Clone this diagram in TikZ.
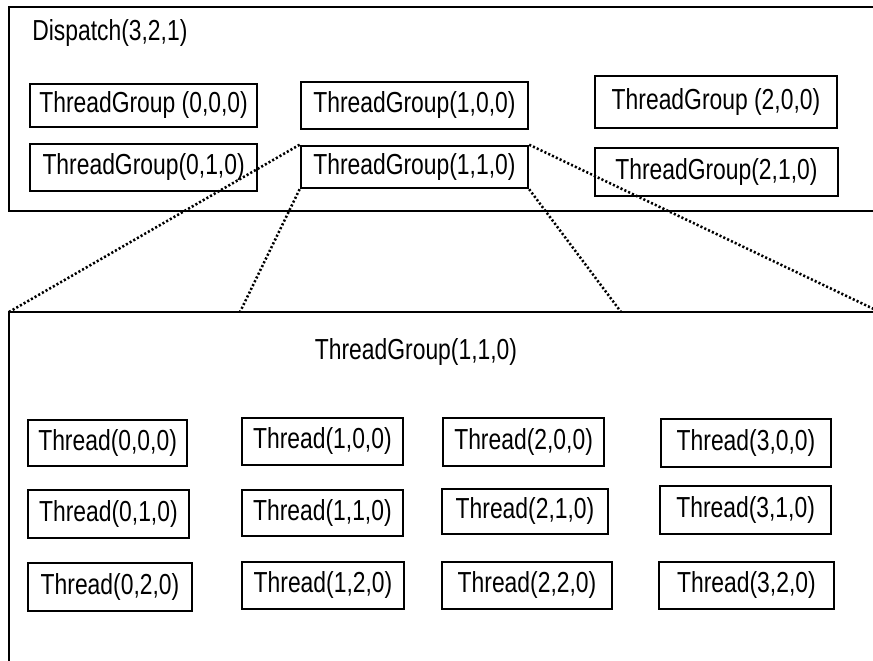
\documentclass[tikz,border=0pt]{standalone}
\usepackage{fontspec}
\setmainfont[FakeStretch=0.79]{Liberation Sans}
\usepackage{tikz}

\begin{document}
\begin{tikzpicture}[
        frame/.style={line width=1.8pt},
        grp/.style={rectangle, draw, line width=1.8pt, inner sep=0pt, font=\fontsize{20.6}{24}\selectfont},
        zoomline/.style={line width=1.8pt, dash pattern=on 1.5pt off 1.5pt}
    ]
        \useasboundingbox (0,0) rectangle (21.825,16.525);

        % outer frames
        \draw[frame] (22.5,16.35) -- (0.225,16.35) -- (0.225,11.25) -- (22.5,11.25);
        \draw[frame] (22.5,8.725) -- (0.225,8.725) -- (0.225,-1);
        \node[anchor=west, inner sep=0pt, font=\fontsize{20.6}{24}\selectfont] (disp) at (0.8,15.7) {Dispatch(3,2,1)};
        \node[font=\fontsize{20.6}{24}\selectfont] (grouptitle) at (10.4,7.725) {ThreadGroup(1,1,0)};

        % thread groups
        \node[grp, minimum width=5.675cm, minimum height=1.075cm] (TG000) at (3.59,13.89) {ThreadGroup (0,0,0)};
        \node[grp, minimum width=5.675cm, minimum height=1.175cm] (TG100) at (10.36,13.89) {ThreadGroup(1,0,0)};
        \node[grp, minimum width=6.05cm, minimum height=1.3cm] (TG200) at (17.9,13.975) {ThreadGroup (2,0,0)};
        \node[grp, minimum width=5.675cm, minimum height=1.175cm] (TG010) at (3.59,12.34) {ThreadGroup(0,1,0)};
        \node[grp, minimum width=5.675cm, minimum height=1.05cm] (TG110) at (10.36,12.35) {ThreadGroup(1,1,0)};
        \node[grp, minimum width=6.075cm, minimum height=1.2cm] (TG210) at (17.91,12.225) {ThreadGroup(2,1,0)};

        % threads
        \node[grp, minimum width=3.975cm, minimum height=1.15cm] (T000) at (2.69,5.45) {Thread(0,0,0)};
        \node[grp, minimum width=4.025cm, minimum height=1.175cm] (T100) at (8.06,5.49) {Thread(1,0,0)};
        \node[grp, minimum width=4.025cm, minimum height=1.2cm] (T200) at (13.09,5.475) {Thread(2,0,0)};
        \node[grp, minimum width=4.25cm, minimum height=1.2cm] (T300) at (18.65,5.45) {Thread(3,0,0)};
        \node[grp, minimum width=4.025cm, minimum height=1.2cm] (T010) at (2.71,3.675) {Thread(0,1,0)};
        \node[grp, minimum width=4.025cm, minimum height=1.15cm] (T110) at (8.06,3.7) {Thread(1,1,0)};
        \node[grp, minimum width=4.15cm, minimum height=1.125cm] (T210) at (13.125,3.7375) {Thread(2,1,0)};
        \node[grp, minimum width=4.275cm, minimum height=1.2cm] (T310) at (18.64,3.775) {Thread(3,1,0)};
        \node[grp, minimum width=4.1cm, minimum height=1.2cm] (T020) at (2.75,1.85) {Thread(0,2,0)};
        \node[grp, minimum width=4.05cm, minimum height=1.175cm] (T120) at (8.075,1.8875) {Thread(1,2,0)};
        \node[grp, minimum width=4.25cm, minimum height=1.175cm] (T220) at (13.175,1.8875) {Thread(2,2,0)};
        \node[grp, minimum width=4.375cm, minimum height=1.175cm] (T320) at (18.66,1.8875) {Thread(3,2,0)};

        % zoom lines
        \coordinate (zl) at (0.225,8.725);
        \coordinate (zml) at (6.0,8.725);
        \coordinate (zmr) at (15.525,8.725);
        \coordinate (zr) at (22.0,8.725);
        \draw[zoomline] (TG110.north west) -- (zl);
        \draw[zoomline] (TG110.south west) -- (zml);
        \draw[zoomline] (TG110.south east) -- (zmr);
        \draw[zoomline] (TG110.north east) -- (zr);
    \end{tikzpicture}
\end{document}
